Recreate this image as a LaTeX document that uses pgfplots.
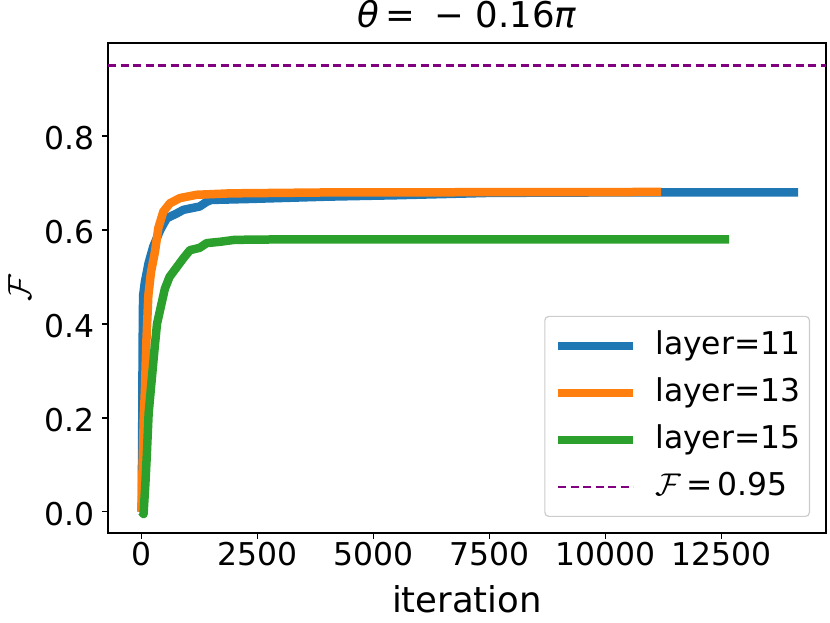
\RequirePackage{fix-cm}
\documentclass[border=0pt]{standalone}
\usepackage{fontspec}
\setmainfont{DejaVu Sans}
\usepackage{pgfplots}
\pgfplotsset{compat=1.18}
\definecolor{tabblue}{HTML}{1F77B4}
\definecolor{taborange}{HTML}{FF7F0E}
\definecolor{tabgreen}{HTML}{2CA02C}
\definecolor{mplpurple}{HTML}{800080}
\newcommand{\bigfont}{\fontsize{31.4bp}{38bp}\selectfont}
\newcommand{\labfont}{\fontsize{35.5bp}{42bp}\selectfont}
\begin{document}
\begin{tikzpicture}[x=1bp,y=1bp]
\useasboundingbox (0,0) rectangle (830,623);
\begin{axis}[
  at={(108bp,90bp)}, anchor=south west,
  width=718bp, height=490bp, scale only axis,
  xmin=-726, xmax=14747, ymin=-0.0454, ymax=0.9983,
  font=\bigfont,
  axis line style={line width=1.6bp},
  xtick={0,2500,5000,7500,10000,12500},
  ytick={0,0.2,0.4,0.6,0.8},
  xtick pos=bottom, ytick pos=left,
  tick align=outside, major tick length=6bp,
  every tick/.style={black, line width=1.5bp},
  minor tick num=0,
  scaled x ticks=false,
  xticklabel style={/pgf/number format/1000 sep={}},
  yticklabel style={/pgf/number format/fixed, /pgf/number format/fixed zerofill, /pgf/number format/precision=1, inner xsep=7bp, yshift=-2bp},
  /pgf/number format/assume math mode=true,
  xlabel={\labfont iteration},
  xlabel style={at={([yshift=-80bp]axis description cs:0.5,0)}, anchor=base},
  ylabel={\fontsize{33bp}{40bp}\selectfont$\mathcal{F}$},
  ylabel style={at={([xshift=-77bp]axis description cs:0,0.5)}, anchor=base, inner sep=0pt},
  title={\labfont\textit{θ}\hspace{6bp}=\hspace{20bp}−\hspace{11bp}0.16\textit{π}},
  title style={at={([yshift=10bp]axis description cs:0.5,1)}, anchor=base},
  legend style={at={(1,0)}, anchor=south east, xshift=-16bp, yshift=16bp,
    draw=black!20, line width=1.2bp, rounded corners=4bp, fill=white, fill opacity=0.8, text opacity=1,
    inner xsep=9bp, inner ysep=14bp, row sep=16bp, column sep=18bp,
    nodes={inner sep=0pt, text height=24bp, text depth=7bp}},
  legend cell align=left,
  legend image code/.code={\draw[#1] (0bp,0bp) -- (75bp,0bp);},
]
\addplot[tabblue, line width=8.5bp, line join=round] coordinates {
(0,0) (10,0.15) (20,0.35) (30,0.46) (70,0.49) (150,0.53) (250,0.565) (400,0.60)
(540,0.625) (750,0.635) (900,0.643) (1250,0.650) (1400,0.660) (1500,0.664)
(2300,0.666) (4000,0.671) (5500,0.674) (7500,0.679) (10000,0.680) (14144,0.680)
};
\addlegendentry{layer=11}
\addplot[taborange, line width=8.5bp, line join=round] coordinates {
(0,0) (20,0.10) (45,0.20) (70,0.26) (100,0.36) (143,0.46) (200,0.51) (287,0.554)
(358,0.604) (466,0.639) (610,0.657) (825,0.668) (1185,0.675) (1900,0.678)
(4000,0.680) (11192,0.681)
};
\addlegendentry{layer=13}
\addplot[tabgreen, line width=8.5bp, line join=round] coordinates {
(0,0) (40,-0.005) (80,0.06) (110,0.12) (150,0.21) (215,0.28) (280,0.35) (330,0.40)
(420,0.44) (500,0.475) (600,0.50) (750,0.52) (900,0.54) (1040,0.557) (1250,0.562)
(1400,0.572) (1700,0.575) (2000,0.579) (3000,0.580) (5000,0.580) (12657,0.580)
};
\addlegendentry{layer=15}
\addplot[mplpurple, line width=2.6bp, dash pattern=on 8bp off 4.5bp] coordinates {
(-726,0.95) (14747,0.95)
};
\addlegendentry{$\mathcal{F}$\hspace{5bp}=\hspace{5bp}0.95}
\end{axis}
\end{tikzpicture}
\end{document}
